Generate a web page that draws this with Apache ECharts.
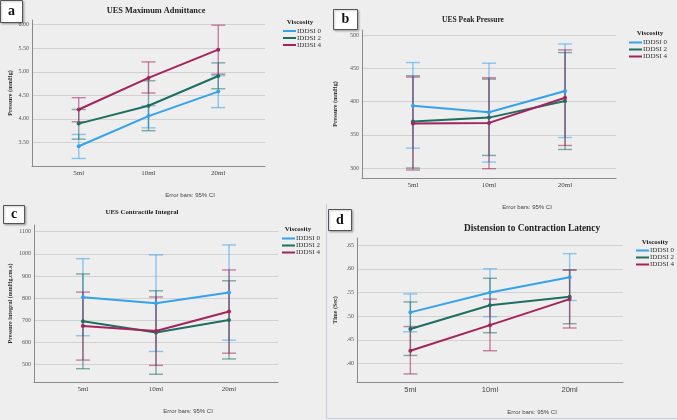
<!DOCTYPE html>
<html lang="en">
<head>
    <meta charset="UTF-8">
    <title>UES measures by viscosity</title>
    <style>
        html, body { margin: 0; padding: 0; background: #eeeeee; }
        #main { width: 677px; height: 420px; }
    </style>
</head>
<body>
    <div id="main"></div>
    <script src="https://cdn.jsdelivr.net/npm/echarts@6/dist/echarts.min.js"></script>
    <script type="text/javascript">
        var categories = ['5ml', '10ml', '20ml'];
        var groups = ['IDDSI 0', 'IDDSI 2', 'IDDSI 4'];
        var colors = ['#34a2ec', '#1e6e62', '#a3245c'];

        // a - UES Maximum Admittance
        var admMean0 = [3.42, 4.06, 4.58];
        var admLow0 = [3.16, 3.81, 4.24];
        var admHigh0 = [3.67, 4.28, 4.92];
        var admMean2 = [3.90, 4.28, 4.91];
        var admLow2 = [3.57, 3.75, 4.64];
        var admHigh2 = [4.20, 4.81, 5.19];
        var admMean4 = [4.20, 4.87, 5.47];
        var admLow4 = [3.94, 4.55, 4.95];
        var admHigh4 = [4.45, 5.21, 5.99];

        // b - UES Peak Pressure
        var peakMean0 = [394, 384, 416];
        var peakLow0 = [330, 309, 346];
        var peakHigh0 = [459, 458, 487];
        var peakMean2 = [370, 376, 401];
        var peakLow2 = [300, 319, 328];
        var peakHigh2 = [439, 434, 474];
        var peakMean4 = [367, 368, 406];
        var peakLow4 = [297, 299, 334];
        var peakHigh4 = [437, 436, 478];

        // c - UES Contractile Integral
        var ciMean0 = [804, 777, 825];
        var ciLow0 = [630, 559, 610];
        var ciHigh0 = [978, 995, 1040];
        var ciMean2 = [695, 645, 701];
        var ciLow2 = [481, 456, 525];
        var ciHigh2 = [909, 833, 878];
        var ciMean4 = [674, 651, 739];
        var ciLow4 = [520, 496, 551];
        var ciHigh4 = [827, 805, 927];

        // d - Distension to Contraction Latency
        var latMean0 = [0.508, 0.550, 0.582];
        var latLow0 = [0.467, 0.499, 0.533];
        var latHigh0 = [0.547, 0.600, 0.632];
        var latMean2 = [0.473, 0.523, 0.541];
        var latLow2 = [0.417, 0.465, 0.484];
        var latHigh2 = [0.530, 0.580, 0.598];
        var latMean4 = [0.427, 0.481, 0.536];
        var latLow4 = [0.378, 0.427, 0.475];
        var latHigh4 = [0.478, 0.536, 0.597];

        var serif = "'Liberation Serif', 'DejaVu Serif', serif";
        var sans = "'Liberation Sans', Arial, sans-serif";

        var panels = [
            {
                grid: {left: 32, top: 20, width: 233, height: 146},
                yMin: 3.0, yMax: 6.1, split: 6,
                fmt: function (v) { return v.toFixed(2); },
                yName: 'Pressure (mmHg)', nameGap: 19, xFont: serif, xSize: 7,
                means: [admMean0, admMean2, admMean4],
                lows: [admLow0, admLow2, admLow4],
                highs: [admHigh0, admHigh2, admHigh4]
            },
            {
                grid: {left: 362, top: 30, width: 254, height: 148},
                yMin: 285, yMax: 508, split: 5,
                fmt: function (v) { return String(v); },
                yName: 'Pressure (mmHg)', nameGap: 24, xFont: serif, xSize: 7,
                means: [peakMean0, peakMean2, peakMean4],
                lows: [peakLow0, peakLow2, peakLow4],
                highs: [peakHigh0, peakHigh2, peakHigh4]
            },
            {
                grid: {left: 34, top: 225, width: 244, height: 157},
                yMin: 421, yMax: 1130, split: 7,
                fmt: function (v) { return String(v); },
                yName: 'Pressure integral (mmHg.cm.s)', nameGap: 21, xFont: serif, xSize: 7,
                means: [ciMean0, ciMean2, ciMean4],
                lows: [ciLow0, ciLow2, ciLow4],
                highs: [ciHigh0, ciHigh2, ciHigh4]
            },
            {
                grid: {left: 357, top: 238, width: 266, height: 144},
                yMin: 0.361, yMax: 0.665, split: 6,
                fmt: function (v) { return '.' + Math.round(v * 100); },
                yName: 'Time (Sec)', nameGap: 19, xFont: sans, xSize: 7.5,
                means: [latMean0, latMean2, latMean4],
                lows: [latLow0, latLow2, latLow4],
                highs: [latHigh0, latHigh2, latHigh4]
            }
        ];

        // error bar: vertical line plus two caps
        function errorBar(params, api) {
            var x = api.value(0);
            var lo = api.coord([x, api.value(1)]);
            var hi = api.coord([x, api.value(2)]);
            var w = 7;
            var st = {stroke: api.visual('color'), lineWidth: 1.4, opacity: 0.55};
            return {
                type: 'group',
                children: [
                    {type: 'line', shape: {x1: lo[0], y1: lo[1], x2: hi[0], y2: hi[1]}, style: st},
                    {type: 'line', shape: {x1: lo[0] - w, y1: lo[1], x2: lo[0] + w, y2: lo[1]}, style: st},
                    {type: 'line', shape: {x1: hi[0] - w, y1: hi[1], x2: hi[0] + w, y2: hi[1]}, style: st}
                ]
            };
        }

        var grids = [], xAxes = [], yAxes = [], series = [];
        panels.forEach(function (p, pi) {
            grids.push({left: p.grid.left, top: p.grid.top, width: p.grid.width, height: p.grid.height,
                containLabel: false, outerBoundsMode: 'none'});
            xAxes.push({
                type: 'value', gridIndex: pi, min: -0.67, max: 2.67,
                axisLine: {onZero: false, lineStyle: {color: '#8a8a8a'}},
                axisTick: {show: false},
                splitLine: {show: false},
                axisLabel: {
                    customValues: [0, 1, 2],
                    formatter: function (v) { return categories[v]; },
                    fontFamily: p.xFont, fontSize: p.xSize, color: '#444', margin: 4
                }
            });
            yAxes.push({
                type: 'value', gridIndex: pi, min: p.yMin, max: p.yMax, splitNumber: p.split,
                name: p.yName, nameLocation: 'middle', nameGap: p.nameGap,
                nameTextStyle: {fontFamily: serif, fontSize: 6, color: '#333', fontWeight: 'bold'},
                axisLine: {show: true, onZero: false, lineStyle: {color: '#8a8a8a'}},
                axisTick: {show: false},
                splitLine: {show: true, showMinLine: false, showMaxLine: false,
                    lineStyle: {color: '#d2d2d2', width: 1}},
                axisLabel: {
                    showMinLabel: false, showMaxLabel: false, margin: 3,
                    formatter: p.fmt, fontFamily: serif, fontSize: 6, color: '#555'
                }
            });
            groups.forEach(function (g, gi) {
                series.push({
                    type: 'custom', name: g, xAxisIndex: pi, yAxisIndex: pi,
                    itemStyle: {color: colors[gi]},
                    encode: {x: 0, y: [1, 2]},
                    data: p.lows[gi].map(function (lo, i) { return [i, lo, p.highs[gi][i]]; }),
                    renderItem: errorBar, z: 2, silent: true
                });
            });
            groups.forEach(function (g, gi) {
                series.push({
                    type: 'line', name: g, xAxisIndex: pi, yAxisIndex: pi,
                    data: p.means[gi].map(function (v, i) { return [i, v]; }),
                    color: colors[gi],
                    lineStyle: {width: 2},
                    symbol: 'circle', symbolSize: 4,
                    z: 3, animation: false
                });
            });
        });

        function legendAt(left, top) {
            return {
                orient: 'vertical', left: left, top: top, padding: 0,
                icon: 'rect', itemWidth: 13, itemHeight: 2, itemGap: 0,
                selectedMode: false, data: groups,
                textStyle: {fontFamily: serif, fontSize: 7, lineHeight: 7, color: '#333',
                    padding: [0, 0, 0, -4]}
            };
        }

        function label(text, x, y, font, size, weight, color) {
            return {
                type: 'text', x: x, y: y, z: 10,
                style: {text: text, fontFamily: font, fontSize: size, fontWeight: weight || 'normal',
                    fill: color || '#222', align: 'center', verticalAlign: 'middle'}
            };
        }

        function letterBox(ch, x, y, w, h) {
            return {
                type: 'group', x: x, y: y, z: 20,
                children: [
                    {type: 'rect', shape: {x: 0, y: 0, width: w, height: h},
                        style: {fill: '#fff', stroke: '#555', lineWidth: 1,
                            shadowBlur: 2, shadowColor: 'rgba(0,0,0,0.25)', shadowOffsetX: 1, shadowOffsetY: 1}},
                    {type: 'text', x: w / 2, y: h / 2,
                        style: {text: ch, fontFamily: serif, fontSize: 14, fontWeight: 'bold', fill: '#111',
                            align: 'center', verticalAlign: 'middle'}}
                ]
            };
        }

        var graphics = [
            // panel d frame
            {type: 'line', shape: {x1: 326.5, y1: 204, x2: 326.5, y2: 418.5}, style: {stroke: '#c6ccd8', lineWidth: 1}},
            {type: 'line', shape: {x1: 326.5, y1: 418.5, x2: 677, y2: 418.5}, style: {stroke: '#c6ccd8', lineWidth: 1}},

            label('UES Maximum Admittance', 156, 10.5, serif, 8.3, 'bold'),
            label('UES Peak Pressure', 473, 20.5, serif, 7.5, 'bold'),
            label('UES Contractile Integral', 142, 212, serif, 6.8, 'bold'),
            label('Distension to Contraction Latency', 532, 229, serif, 9.3, 'bold'),

            label('Viscosity', 300, 22.5, serif, 7, 'bold'),
            label('Viscosity', 650, 33.5, serif, 7, 'bold'),
            label('Viscosity', 298, 229.5, serif, 7, 'bold'),
            label('Viscosity', 655, 242, serif, 7, 'bold'),

            label('Error bars: 95% CI', 190, 195, sans, 6, 'normal', '#444'),
            label('Error bars: 95% CI', 527, 207, sans, 6, 'normal', '#444'),
            label('Error bars: 95% CI', 188, 411, sans, 6, 'normal', '#444'),
            label('Error bars: 95% CI', 532, 412, sans, 6, 'normal', '#444'),

            letterBox('a', 0.5, 0.5, 22, 22),
            letterBox('b', 333.5, 9.5, 24, 20),
            letterBox('c', 3.5, 205.5, 21, 18),
            letterBox('d', 328.5, 209.5, 23, 21)
        ];

        var myChart = echarts.init(document.getElementById('main'), null, {renderer: 'canvas'});
        var option = {
            backgroundColor: '#eeeeee',
            animation: false,
            grid: grids,
            xAxis: xAxes,
            yAxis: yAxes,
            legend: [legendAt(283, 27.5), legendAt(629, 39), legendAt(282, 235), legendAt(636, 247)],
            graphic: graphics,
            series: series
        };
        myChart.setOption(option);
    </script>
</body>
</html>
